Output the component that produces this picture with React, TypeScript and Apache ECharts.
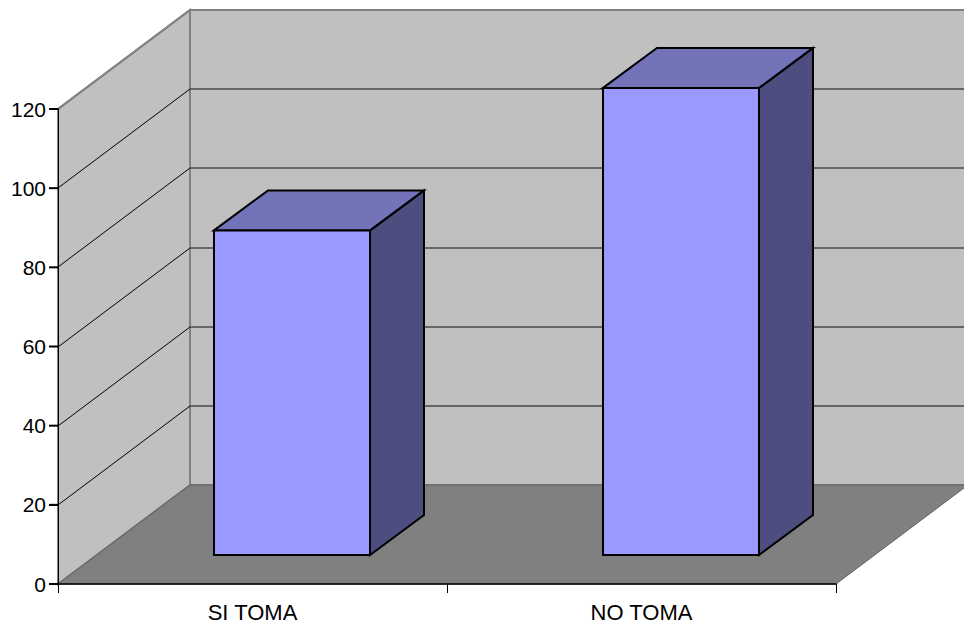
import React, { useEffect, useRef } from "react";
import * as echarts from "echarts";

const categories = ["SI TOMA", "NO TOMA"];
const values = [82, 118];
const gridValues = [0, 20, 40, 60, 80, 100, 120];

const WALL_DX = 132;
const WALL_DY = -99;
const BAR_SHIFT_X = 39.5;
const BAR_SHIFT_Y = -29;
const BAR_DX = 54;
const BAR_DY = -40;
const BAR_HALF = 78;

const poly = (points: number[][], fill: string, stroke: string, lineWidth: number) => ({
  type: "polygon",
  shape: { points },
  style: { fill, stroke, lineWidth },
  silent: true,
});

export default function App() {
  const ref = useRef<HTMLDivElement>(null);
  useEffect(() => {
    const chart = echarts.init(ref.current!, null, { renderer: "svg" });
    chart.setOption({
      animation: false,
      backgroundColor: "#ffffff",
      grid: { left: 58, top: 109, width: 778, height: 475 },
      xAxis: {
        type: "category",
        data: categories,
        axisLine: { show: true, lineStyle: { color: "#000000", width: 1.5 } },
        axisTick: { show: true, alignWithLabel: false, length: 9, lineStyle: { color: "#000000", width: 1 } },
        axisLabel: {
          color: "#000000",
          fontFamily: "Liberation Sans",
          fontSize: 22,
          margin: 17,
        },
      },
      yAxis: {
        type: "value",
        min: 0,
        max: 120,
        interval: 20,
        axisLine: { show: true, lineStyle: { color: "#000000", width: 1 } },
        axisTick: { show: true, length: 9, lineStyle: { color: "#000000", width: 1 } },
        splitLine: { show: false },
        axisLabel: {
          color: "#000000",
          fontFamily: "Liberation Sans",
          fontSize: 21,
          margin: 12,
          padding: [2, 0, 0, 0],
        },
      },
      series: [
        {
          type: "custom",
          z: -2,
          silent: true,
          data: [[0, 0]],
          renderItem: (_p: any, api: any) => {
            const bl = api.coord([0, 0]);
            const tl = api.coord([0, 120]);
            const x0 = 58;
            const x1 = 836;
            const y0 = bl[1];
            const y1 = tl[1];
            return {
              type: "group",
              children: [
                poly(
                  [
                    [x0 + WALL_DX, y1 + WALL_DY],
                    [x1 + WALL_DX, y1 + WALL_DY],
                    [x1 + WALL_DX, y0 + WALL_DY],
                    [x0 + WALL_DX, y0 + WALL_DY],
                  ],
                  "#C0C0C0",
                  "#808080",
                  2
                ),
                poly(
                  [
                    [x0, y1],
                    [x0 + WALL_DX, y1 + WALL_DY],
                    [x0 + WALL_DX, y0 + WALL_DY],
                    [x0, y0],
                  ],
                  "#C0C0C0",
                  "#808080",
                  2
                ),
                poly(
                  [
                    [x0, y0],
                    [x0 + WALL_DX, y0 + WALL_DY],
                    [x1 + WALL_DX, y0 + WALL_DY],
                    [x1, y0],
                  ],
                  "#808080",
                  "#5f5f5f",
                  1
                ),
              ],
            };
          },
        },
        {
          type: "custom",
          z: -1,
          silent: true,
          data: gridValues.slice(1).map((v) => [0, v]),
          renderItem: (_p: any, api: any) => {
            const val = api.value(1);
            const y = Math.round(api.coord([0, val])[1]);
            const x0 = 58;
            const x1 = 836;
            const isTop = val === 120;
            return {
              type: "group",
              children: [
                {
                  type: "line",
                  shape: { x1: x0, y1: y, x2: x0 + WALL_DX, y2: y + WALL_DY },
                  style: { stroke: isTop ? "#808080" : "#000000", lineWidth: isTop ? 2 : 1 },
                },
                {
                  type: "line",
                  shape: { x1: x0 + WALL_DX, y1: y + WALL_DY, x2: x1 + WALL_DX, y2: y + WALL_DY },
                  style: { stroke: isTop ? "#808080" : "#4a4a4a", lineWidth: isTop ? 2 : 1.5 },
                },
              ],
            };
          },
        },
        {
          type: "custom",
          z: 3,
          silent: true,
          data: values.map((v, i) => [i, v]),
          renderItem: (_p: any, api: any) => {
            const top = api.coord([api.value(0), api.value(1)]);
            const bottom = api.coord([api.value(0), 0]);
            const cx = top[0] + BAR_SHIFT_X;
            const l = cx - BAR_HALF;
            const r = cx + BAR_HALF;
            const t = top[1] + BAR_SHIFT_Y;
            const b = bottom[1] + BAR_SHIFT_Y;
            return {
              type: "group",
              children: [
                poly(
                  [
                    [r, t],
                    [r + BAR_DX, t + BAR_DY],
                    [r + BAR_DX, b + BAR_DY],
                    [r, b],
                  ],
                  "#4D4D7F",
                  "#000000",
                  2
                ),
                poly(
                  [
                    [l, t],
                    [l + BAR_DX, t + BAR_DY],
                    [r + BAR_DX, t + BAR_DY],
                    [r, t],
                  ],
                  "#7373BA",
                  "#000000",
                  2
                ),
                poly(
                  [
                    [l, t],
                    [r, t],
                    [r, b],
                    [l, b],
                  ],
                  "#9999FF",
                  "#000000",
                  2
                ),
              ],
            };
          },
        },
        {
          type: "custom",
          z: 20,
          data: gridValues.map((v) => [0, v]),
          renderItem: (_p: any, api: any) => {
            const y = api.coord([0, api.value(1)])[1];
            return {
              type: "rect",
              shape: { x: 49, y: y - 1, width: 9, height: 2 },
              style: { fill: "#000000" },
            };
          },
        },
      ],
    });
    return () => chart.dispose();
  }, []);
  return (
    <div
      ref={ref}
      style={{ position: "absolute", left: 0, top: 0, width: 964, height: 625 }}
    />
  );
}
